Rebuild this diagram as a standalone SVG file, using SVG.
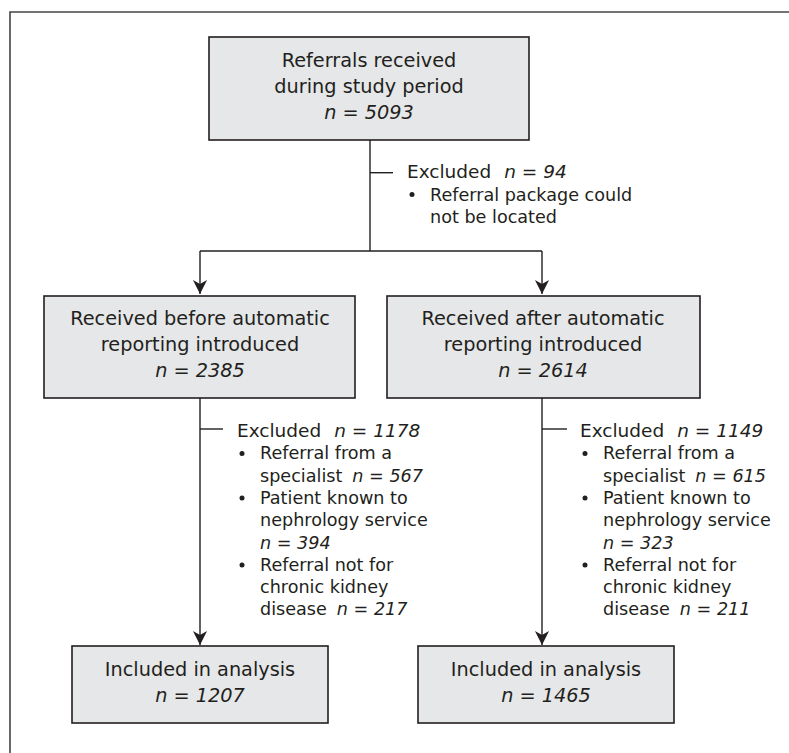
<svg xmlns="http://www.w3.org/2000/svg" width="789" height="753" viewBox="0 0 789 753">
<defs>
<style>
.box{fill:#e6e7e8;stroke:#231f20;stroke-width:1.6}
.t{font-family:"DejaVu Sans","Liberation Sans",sans-serif;font-size:19.3px;fill:#231f20}
.h{font-size:18.5px}
.b{font-size:17.6px}
.c{text-anchor:middle}
.i{font-style:italic}
.ln{fill:none;stroke:#231f20;stroke-width:1.4}
.frame{fill:none;stroke:#444;stroke-width:1.6}
.dot{fill:#231f20}
</style>
<marker id="ah" markerWidth="16" markerHeight="16" viewBox="-16 -8 17 16" refX="0" refY="0" orient="auto" markerUnits="userSpaceOnUse">
<path d="M0,0 L-15,-7.5 L-10.5,0 L-15,7.5 Z" fill="#231f20"/>
</marker>
</defs>
<rect width="789" height="753" fill="#fff"/>
<path class="frame" d="M10,760 V12 H800"/>

<g id="connectors">
<path class="ln" d="M370,140 V251"/>
<path class="ln" d="M370,172.7 H393"/>
<path class="ln" d="M200,251 H542"/>
<path class="ln" d="M200,251 V294" marker-end="url(#ah)"/>
<path class="ln" d="M542,251 V294" marker-end="url(#ah)"/>
<path class="ln" d="M200,398 V645" marker-end="url(#ah)"/>
<path class="ln" d="M542,398 V645" marker-end="url(#ah)"/>
<path class="ln" d="M200,429 H223"/>
<path class="ln" d="M542,429 H567"/>
</g>

<g id="n_start">
<rect class="box" x="209" y="37" width="320" height="103"/>
<text class="t c" x="369" y="67">Referrals received</text>
<text class="t c" x="369" y="93">during study period</text>
<text class="t c i" x="369" y="119">n = 5093</text>
</g>

<g id="excl_top">
<text class="t h" x="407" y="178.3">Excluded<tspan class="i" dx="13">n = 94</tspan></text>
<circle class="dot" cx="412" cy="194.5" r="2.5"/>
<text class="t b" x="430" y="200.5">Referral package could</text>
<text class="t b" x="430" y="222.7">not be located</text>
</g>

<g id="n_before">
<rect class="box" x="44" y="296" width="311" height="102"/>
<text class="t c" x="200" y="325">Received before automatic</text>
<text class="t c" x="200" y="351">reporting introduced</text>
<text class="t c i" x="200" y="377">n = 2385</text>
</g>

<g id="n_after">
<rect class="box" x="387" y="296" width="313" height="102"/>
<text class="t c" x="543" y="325">Received after automatic</text>
<text class="t c" x="543" y="351">reporting introduced</text>
<text class="t c i" x="543" y="377">n = 2614</text>
</g>

<g id="excl_left">
<text class="t h" x="237" y="437">Excluded<tspan class="i" dx="13">n = 1178</tspan></text>
<circle class="dot" cx="242" cy="453.5" r="2.5"/>
<text class="t b" x="260" y="459.3">Referral from a</text>
<text class="t b" x="260" y="481.6">specialist<tspan class="i" dx="10">n = 567</tspan></text>
<circle class="dot" cx="242" cy="498" r="2.5"/>
<text class="t b" x="260" y="503.9">Patient known to</text>
<text class="t b" x="260" y="526.2">nephrology service</text>
<text class="t b i" x="260" y="548.5">n = 394</text>
<circle class="dot" cx="242" cy="565" r="2.5"/>
<text class="t b" x="260" y="570.8">Referral not for</text>
<text class="t b" x="260" y="593.1">chronic kidney</text>
<text class="t b" x="260" y="615.4">disease<tspan class="i" dx="10">n = 217</tspan></text>
</g>

<g id="excl_right">
<text class="t h" x="580" y="437">Excluded<tspan class="i" dx="13">n = 1149</tspan></text>
<circle class="dot" cx="585" cy="453.5" r="2.5"/>
<text class="t b" x="603" y="459.3">Referral from a</text>
<text class="t b" x="603" y="481.6">specialist<tspan class="i" dx="10">n = 615</tspan></text>
<circle class="dot" cx="585" cy="498" r="2.5"/>
<text class="t b" x="603" y="503.9">Patient known to</text>
<text class="t b" x="603" y="526.2">nephrology service</text>
<text class="t b i" x="603" y="548.5">n = 323</text>
<circle class="dot" cx="585" cy="565" r="2.5"/>
<text class="t b" x="603" y="570.8">Referral not for</text>
<text class="t b" x="603" y="593.1">chronic kidney</text>
<text class="t b" x="603" y="615.4">disease<tspan class="i" dx="10">n = 211</tspan></text>
</g>

<g id="n_incl_before">
<rect class="box" x="72" y="646" width="256" height="77"/>
<text class="t c" x="200" y="675.7">Included in analysis</text>
<text class="t c i" x="200" y="701.7">n = 1207</text>
</g>

<g id="n_incl_after">
<rect class="box" x="418" y="646" width="256" height="77"/>
<text class="t c" x="546" y="675.7">Included in analysis</text>
<text class="t c i" x="546" y="701.7">n = 1465</text>
</g>
</svg>
